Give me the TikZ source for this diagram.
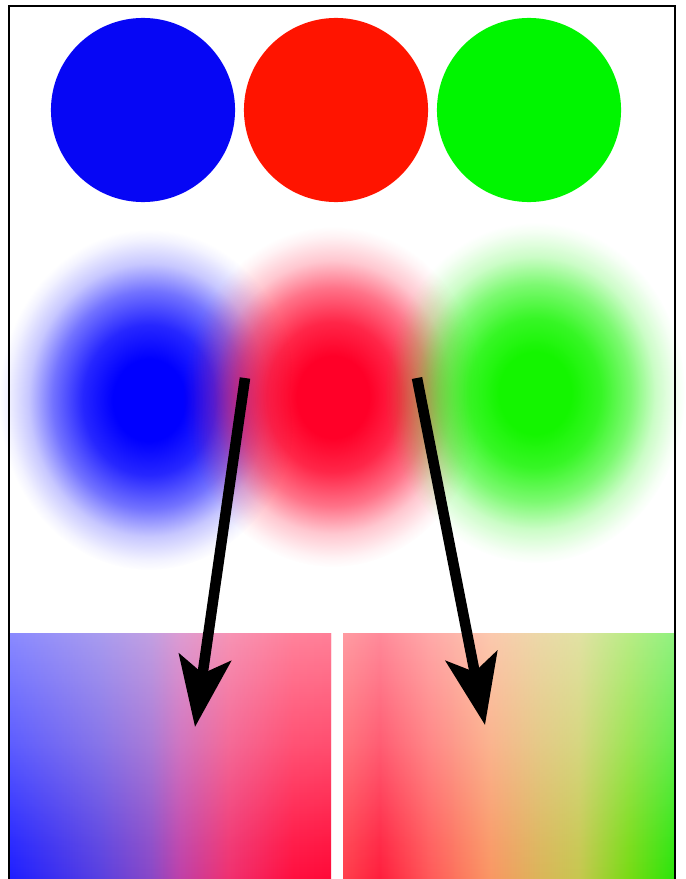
\documentclass[tikz,border=0pt]{standalone}
\usepackage{tikz}
\usetikzlibrary{arrows.meta,fadings}

\definecolor{discblue}{RGB}{6,6,245}
\definecolor{discred}{RGB}{255,20,0}
\definecolor{discgreen}{RGB}{0,245,0}
\definecolor{blurblue}{RGB}{0,0,255}
\definecolor{blurred}{RGB}{255,0,40}
\definecolor{blurgreen}{RGB}{20,245,0}

\pgfdeclareradialshading{blurshade}{\pgfpoint{0bp}{0bp}}{color(0bp)=(white); color(6bp)=(white); color(11bp)=(black!15); color(16bp)=(black!45); color(20bp)=(black!78); color(23.5bp)=(black!95); color(25bp)=(black); color(50bp)=(black)}
\pgfdeclarefading{blurfade}{\pgfuseshading{blurshade}}
\pgfdeclareverticalshading{whitenshade}{100bp}{color(0bp)=(black); color(25bp)=(black); color(32.5bp)=(black!94); color(52.5bp)=(black!72); color(75bp)=(black!52); color(100bp)=(black!52)}
\pgfdeclarefading{whitenfade}{\pgfuseshading{whitenshade}}
\pgfdeclarehorizontalshading{blueredmix}{100bp}{rgb(0bp)=(0.12,0.12,1); rgb(25bp)=(0.12,0.12,1); rgb(39bp)=(0.35,0.25,0.88); rgb(47bp)=(0.54,0.28,0.78); rgb(51.5bp)=(0.75,0.25,0.66); rgb(59bp)=(0.94,0.19,0.44); rgb(69bp)=(1,0.06,0.25); rgb(75bp)=(1,0.04,0.22); rgb(100bp)=(1,0.04,0.22)}
\pgfdeclarehorizontalshading{redgreenmix}{100bp}{rgb(0bp)=(1,0.25,0.3); rgb(25bp)=(1,0.25,0.3); rgb(30.5bp)=(1,0.12,0.24); rgb(38bp)=(1,0.35,0.35); rgb(47bp)=(0.98,0.59,0.39); rgb(54.5bp)=(0.86,0.71,0.35); rgb(60.5bp)=(0.78,0.78,0.31); rgb(68bp)=(0.47,0.86,0.08); rgb(75bp)=(0.16,0.9,0.04); rgb(100bp)=(0.16,0.9,0.04)}

\tikzset{
  disc/.style={circle, minimum size=1.84cm, inner sep=0pt, draw=none},
  blurspot/.style={path fading=blurfade},
  whiten/.style={white, path fading=whitenfade},
  bigarrow/.style={line width=3pt, -{Stealth[length=7mm, width=5.2mm, inset=1.6mm]}},
  frameline/.style={line width=0.8pt, black}
}

\begin{document}
\begin{tikzpicture}[x=0.01cm,y=-0.01cm]
  \useasboundingbox (0,0) rectangle (685,879);
  \node[disc, fill=discblue] (blueDisc) at (143,110) {};
  \node[disc, fill=discred] (redDisc) at (336,110) {};
  \node[disc, fill=discgreen] (greenDisc) at (529,110) {};
  \fill[blurblue, blurspot] (149,400) ellipse [x radius=150, y radius=170];
  \fill[blurred, blurspot] (333,397) ellipse [x radius=150, y radius=170];
  \fill[blurgreen, blurspot] (535,393) ellipse [x radius=150, y radius=170];
  \shade[shading=blueredmix] (10,633) rectangle (331,879);
  \fill[whiten] (10,633) rectangle (331,879);
  \shade[shading=redgreenmix] (343,633) rectangle (675,879);
  \fill[whiten] (343,633) rectangle (675,879);
  \coordinate (leftTail) at (245,378);
  \coordinate (leftTip) at (195,727);
  \coordinate (rightTail) at (417,378);
  \coordinate (rightTip) at (485,725);
  \draw[bigarrow] (leftTail) -- (leftTip);
  \draw[bigarrow] (rightTail) -- (rightTip);
  \draw[frameline] (9,879) -- (9,6) -- (675,6) -- (675,879);
\end{tikzpicture}
\end{document}
